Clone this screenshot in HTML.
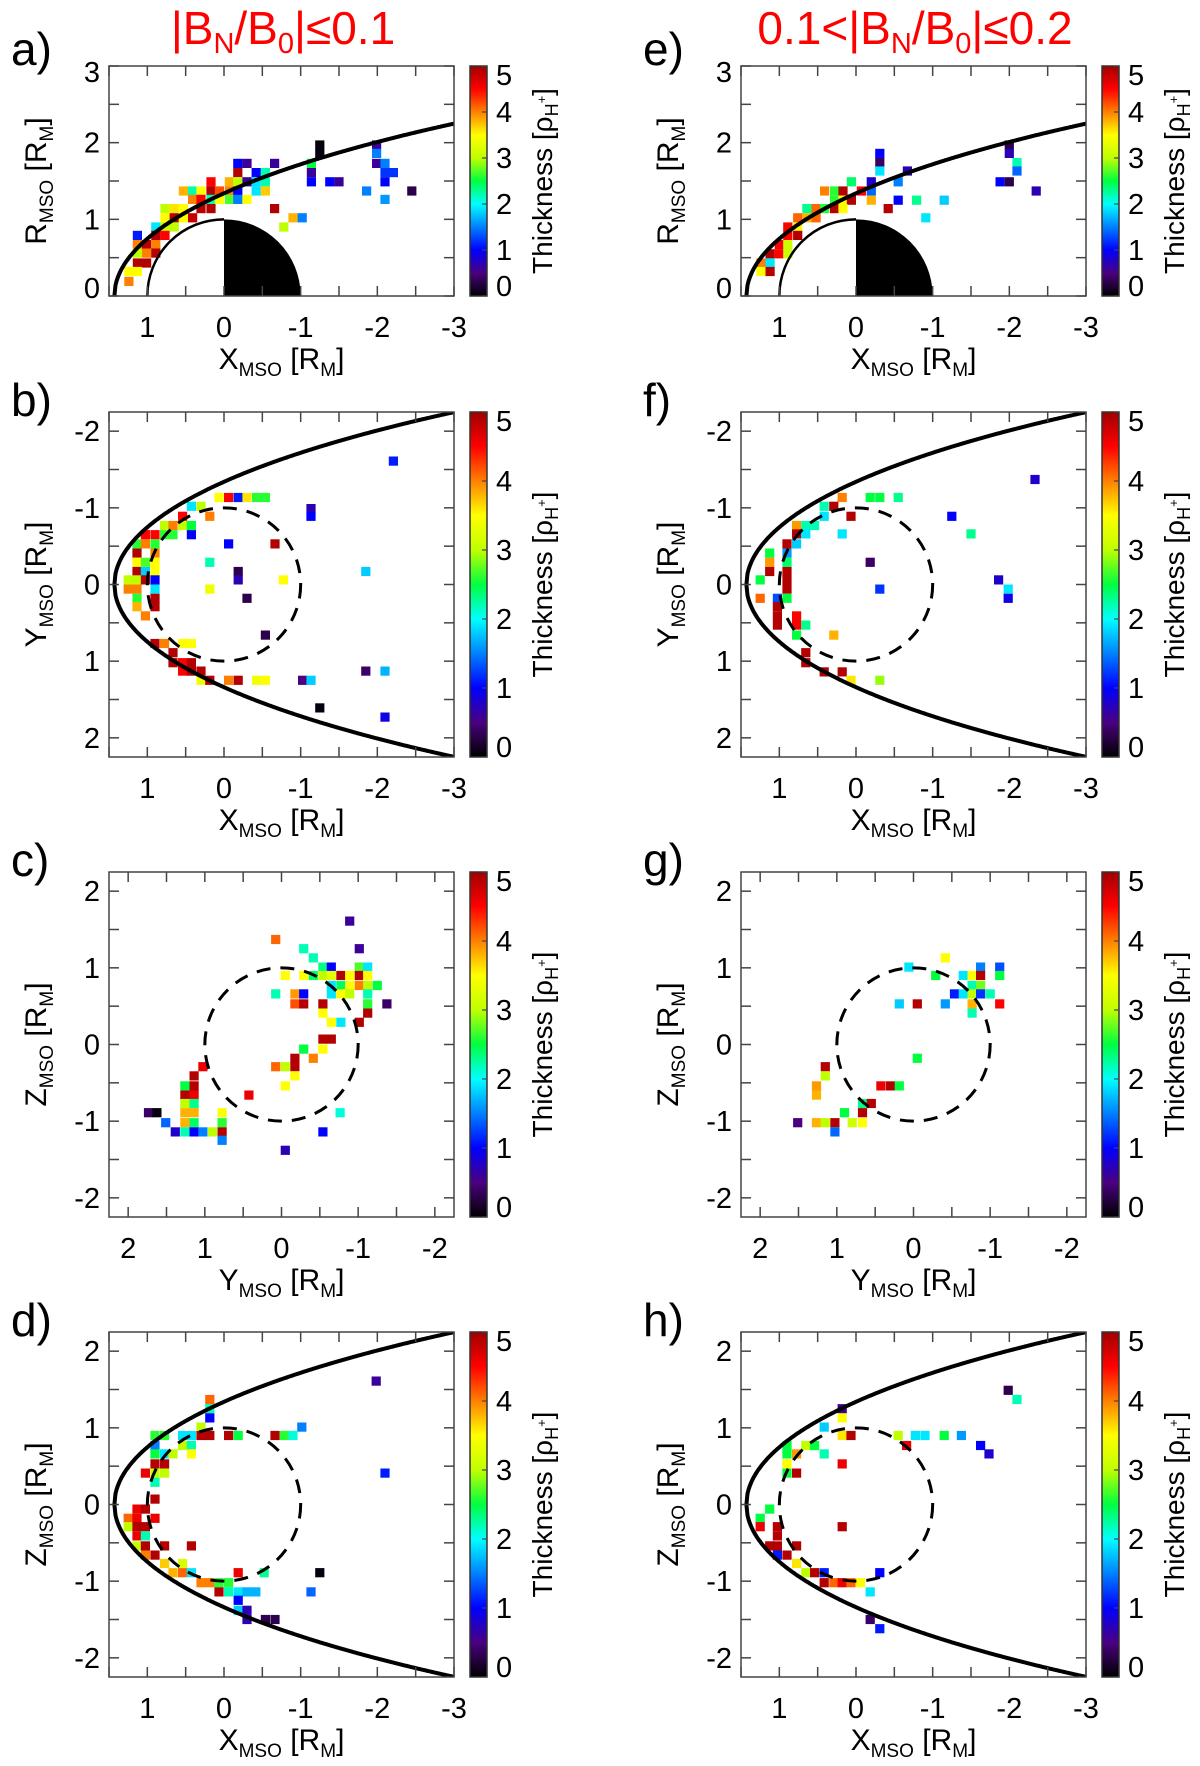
<!DOCTYPE html>
<html><head><meta charset="utf-8"><title>Current sheet thickness maps</title>
<style>html,body{margin:0;padding:0;background:#fff}svg{display:block}text{font-family:"Liberation Sans",sans-serif}</style>
</head><body>
<svg id="fig" width="1200" height="1766" viewBox="0 0 1200 1766" xmlns="http://www.w3.org/2000/svg">
<defs><linearGradient id="cmap" x1="0" y1="1" x2="0" y2="0">
<stop offset="0" stop-color="#000000"/><stop offset="0.1" stop-color="#4a0080"/><stop offset="0.2" stop-color="#0000ff"/><stop offset="0.3" stop-color="#0080ff"/><stop offset="0.4" stop-color="#00ffff"/><stop offset="0.5" stop-color="#00ff40"/><stop offset="0.6" stop-color="#c0ff00"/><stop offset="0.7" stop-color="#ffff00"/><stop offset="0.8" stop-color="#ff8000"/><stop offset="0.9" stop-color="#ff0000"/><stop offset="1" stop-color="#a00000"/></linearGradient></defs>
<text x="283" y="44" text-anchor="middle" font-size="46" fill="#ff0000">|B<tspan font-size="29" dy="9">N</tspan><tspan dy="-9">/B</tspan><tspan font-size="29" dy="9">0</tspan><tspan dy="-9">|≤0.1</tspan></text>
<text x="915" y="44" text-anchor="middle" font-size="46" fill="#ff0000">0.1&lt;|B<tspan font-size="29" dy="9">N</tspan><tspan dy="-9">/B</tspan><tspan font-size="29" dy="9">0</tspan><tspan dy="-9">|≤0.2</tspan></text>
</svg>
<script>
// data: [x, y, thickness]
const panelA=[[-1.25,1.97,0.05],[-1.25,1.86,0.05],[-1.99,1.97,0.6],[-1.99,1.86,1.5],[-0.18,1.73,1.0],[-0.30,1.73,0.6],[-0.66,1.73,0.6],[-1.14,1.73,2.5],[-1.99,1.73,0.6],[-2.10,1.73,1.5],[-0.18,1.61,4.9],[-0.42,1.61,1.0],[-0.54,1.61,2.2],[-1.14,1.61,0.6],[-2.10,1.61,1.2],[-2.21,1.61,1.2],[0.17,1.49,4.5],[-0.07,1.49,3.8],[-0.18,1.49,3.0],[-0.30,1.49,0.6],[-0.42,1.49,1.9],[-0.54,1.49,2.2],[-1.14,1.49,1.0],[-1.38,1.49,1.0],[-1.50,1.49,0.6],[-2.10,1.49,1.0],[0.53,1.37,3.8],[0.41,1.37,2.2],[0.30,1.37,3.5],[0.17,1.37,4.9],[0.06,1.37,4.2],[-0.07,1.37,4.0],[-0.18,1.37,1.0],[-0.42,1.37,1.9],[-0.54,1.37,3.7],[-1.86,1.37,1.5],[-2.45,1.37,0.3],[0.41,1.26,4.0],[0.30,1.26,4.5],[0.17,1.26,2.2],[0.06,1.26,3.5],[-0.07,1.26,2.7],[-0.18,1.26,1.5],[-0.30,1.26,3.5],[-2.10,1.26,1.6],[0.77,1.14,3.0],[0.65,1.14,3.6],[0.53,1.14,3.5],[0.30,1.14,4.9],[0.17,1.14,4.9],[-0.66,1.14,4.9],[0.77,1.02,3.5],[0.65,1.02,4.9],[0.53,1.02,3.5],[0.41,1.02,4.8],[-0.90,1.02,3.8],[-1.02,1.02,1.5],[0.89,0.90,1.9],[0.77,0.90,3.0],[0.65,0.90,3.0],[-0.78,0.90,3.0],[1.13,0.79,1.1],[0.89,0.79,4.9],[0.77,0.79,4.5],[1.13,0.67,4.0],[1.01,0.67,4.9],[0.89,0.67,4.0],[1.13,0.56,3.0],[1.01,0.56,4.0],[0.89,0.56,4.9],[1.13,0.43,4.9],[1.01,0.43,4.9],[1.24,0.32,3.5],[1.13,0.32,3.5],[1.24,0.19,4.0]];
const panelE=[[-2.0,1.97,0.3],[-0.31,1.86,1.0],[-2.0,1.86,0.7],[-0.31,1.74,0.4],[-2.1,1.74,2.2],[-0.31,1.63,1.9],[-0.67,1.63,0.7],[-2.1,1.63,1.4],[0.06,1.49,2.4],[-0.20,1.49,0.8],[-0.55,1.49,1.5],[-1.88,1.49,1.0],[-2.0,1.49,0.3],[-2.35,1.37,0.7],[0.41,1.37,4.0],[0.28,1.37,2.6],[0.17,1.37,4.9],[-0.07,1.37,4.5],[-0.20,1.37,1.4],[0.28,1.25,2.6],[0.17,1.25,3.5],[0.06,1.25,4.9],[-0.20,1.25,3.8],[-0.55,1.25,1.0],[-0.79,1.25,2.3],[-1.15,1.25,1.8],[0.64,1.14,2.3],[0.52,1.14,4.1],[0.41,1.14,2.6],[0.28,1.14,4.9],[0.17,1.14,3.5],[-0.42,1.14,4.9],[0.76,1.02,4.1],[0.64,1.02,3.8],[0.52,1.02,4.1],[-0.91,1.02,1.9],[0.89,0.90,4.5],[0.76,0.90,3.5],[0.89,0.79,4.5],[0.76,0.79,4.9],[1.00,0.67,4.5],[0.89,0.67,3.1],[1.12,0.55,4.9],[1.00,0.55,4.5],[0.89,0.55,3.1],[1.24,0.43,4.0],[1.12,0.43,1.9],[1.24,0.32,3.5],[1.12,0.32,4.9]];
const panelB=[[0.065,-1.135,3.5],[-0.06,-1.135,4.5],[-0.185,-1.135,1.1],[-0.30,-1.135,3.6],[-0.425,-1.135,2.6],[-0.54,-1.135,2.6],[0.425,-1.02,1.9],[0.30,-1.02,3.0],[-1.135,-0.99,0.7],[-1.135,-0.89,1.0],[0.54,-0.89,4.5],[0.185,-0.89,4.0],[0.775,-0.77,3.0],[0.665,-0.77,4.0],[0.54,-0.77,3.0],[0.425,-0.77,2.5],[1.025,-0.65,4.5],[0.9,-0.65,4.5],[0.775,-0.65,2.6],[0.665,-0.65,2.6],[0.425,-0.65,1.0],[1.135,-0.53,2.6],[1.025,-0.53,4.0],[0.9,-0.53,2.6],[-0.06,-0.53,1.0],[-0.665,-0.53,4.9],[1.135,-0.41,4.9],[0.9,-0.41,4.0],[1.135,-0.29,3.5],[1.025,-0.29,2.7],[0.9,-0.29,3.5],[0.185,-0.29,2.2],[1.135,-0.17,4.9],[1.025,-0.17,1.8],[0.9,-0.17,3.5],[-0.185,-0.17,0.3],[-1.85,-0.17,1.8],[1.25,-0.06,3.0],[1.135,-0.06,3.0],[1.025,-0.06,4.9],[0.9,-0.06,1.0],[-0.185,-0.06,0.7],[-0.775,-0.06,3.5],[1.25,0.06,4.0],[1.135,0.06,4.0],[0.9,0.06,1.9],[0.185,0.06,3.4],[1.135,0.18,2.6],[0.9,0.18,4.9],[-0.30,0.18,0.3],[1.135,0.29,3.8],[0.9,0.29,4.9],[1.025,0.41,4.0],[-0.54,0.66,0.3],[0.9,0.77,4.9],[0.775,0.77,4.0],[0.54,0.77,3.5],[0.425,0.77,3.5],[0.665,0.89,4.9],[0.665,1.02,4.9],[0.54,1.02,4.5],[0.425,1.02,4.9],[0.54,1.13,4.5],[0.425,1.13,4.9],[0.30,1.13,4.9],[-1.85,1.13,0.4],[-2.1,1.13,1.7],[0.30,1.25,3.4],[0.185,1.25,4.9],[-0.06,1.25,4.0],[-0.185,1.25,4.9],[-0.425,1.25,3.4],[-0.54,1.25,3.5],[-1.025,1.25,0.5],[-1.135,1.25,1.8],[-1.25,1.61,0.05],[-2.1,1.73,0.9],[-2.21,-1.61,1.1]];
const panelF=[[-2.335,-1.37,0.8],[0.18,-1.135,4.0],[-0.185,-1.135,2.5],[-0.31,-1.135,2.5],[-0.55,-1.135,2.3],[0.415,-1.02,2.2],[0.29,-1.02,4.9],[0.415,-0.89,1.9],[0.065,-0.89,4.9],[-1.25,-0.89,1.0],[0.775,-0.77,3.9],[0.655,-0.77,2.2],[0.54,-0.77,2.2],[0.775,-0.66,4.9],[0.655,-0.66,1.9],[0.18,-0.66,1.9],[-1.5,-0.66,2.3],[0.9,-0.53,4.9],[0.775,-0.53,1.8],[1.125,-0.41,2.5],[0.9,-0.41,1.6],[1.125,-0.29,3.9],[0.9,-0.29,2.4],[-0.185,-0.29,0.4],[1.125,-0.17,4.9],[0.9,-0.17,4.9],[1.25,-0.06,2.5],[0.9,-0.06,4.9],[-1.86,-0.06,0.8],[0.9,0.06,4.9],[-0.31,0.06,1.2],[-1.985,0.06,1.9],[1.25,0.18,4.1],[1.025,0.18,1.3],[0.9,0.18,2.5],[-1.985,0.18,0.9],[1.025,0.29,4.9],[1.025,0.41,4.9],[0.775,0.41,4.5],[1.025,0.53,4.9],[0.775,0.53,4.5],[0.655,0.53,2.3],[0.775,0.66,2.5],[0.29,0.66,3.8],[0.655,0.89,4.9],[0.655,1.02,4.9],[0.415,1.14,4.9],[0.18,1.14,4.9],[0.065,1.25,3.6],[-0.31,1.25,2.9]];
const panelC=[[-0.89,1.61,0.6],[0.075,1.37,4.1],[-1.015,1.25,0.6],[-0.29,1.25,2.2],[-0.415,1.13,2.2],[-0.54,1.01,2.3],[-0.65,1.01,1.0],[-1.015,1.01,2.7],[-1.125,1.01,1.9],[-0.05,0.9,3.5],[-0.29,0.9,3.5],[-0.415,0.9,2.4],[-0.54,0.9,3.0],[-0.65,0.9,3.3],[-0.775,0.9,4.9],[-0.89,0.9,3.5],[-1.015,0.9,4.9],[-1.125,0.9,3.5],[-0.65,0.77,1.9],[-0.775,0.77,2.4],[-0.89,0.77,3.5],[-1.015,0.77,4.0],[-1.125,0.77,3.0],[-1.25,0.77,2.5],[0.075,0.66,2.2],[-0.175,0.66,3.9],[-0.29,0.66,1.0],[-0.65,0.66,1.9],[-0.775,0.66,3.5],[-0.89,0.66,3.0],[-1.125,0.66,2.2],[-0.175,0.53,4.2],[-0.29,0.53,4.9],[-0.54,0.53,4.9],[-1.125,0.53,2.6],[-1.375,0.53,0.4],[-0.54,0.41,3.5],[-1.125,0.41,4.9],[-0.65,0.29,3.5],[-0.775,0.29,1.9],[-1.015,0.29,4.9],[-0.54,0.07,4.9],[-0.65,0.07,4.9],[-0.29,-0.06,2.5],[-0.54,-0.06,3.5],[-0.175,-0.18,4.9],[-0.415,-0.18,4.0],[0.075,-0.29,4.1],[-0.05,-0.29,3.0],[-0.175,-0.29,4.9],[1.025,-0.29,4.6],[1.14,-0.41,4.9],[-0.175,-0.41,3.5],[1.26,-0.54,2.5],[1.14,-0.54,4.9],[-0.05,-0.54,3.5],[1.26,-0.66,4.9],[1.14,-0.66,4.6],[0.425,-0.66,4.6],[1.26,-0.77,3.0],[1.14,-0.77,2.3],[1.26,-0.89,3.8],[1.14,-0.89,3.8],[0.775,-0.89,3.5],[1.735,-0.89,0.4],[1.625,-0.89,0.05],[-0.765,-0.89,2.1],[1.51,-1.02,1.4],[1.26,-1.02,3.8],[1.14,-1.02,2.4],[0.775,-1.02,2.6],[1.385,-1.14,0.8],[1.26,-1.14,2.2],[1.14,-1.14,1.0],[1.025,-1.14,1.5],[0.9,-1.14,3.0],[0.775,-1.14,4.9],[-0.54,-1.14,1.0],[0.775,-1.25,1.5],[-0.05,-1.38,0.7]];
const panelG=[[-0.415,1.13,3.5],[0.06,1.01,1.9],[-0.875,1.01,1.5],[-1.125,1.01,1.3],[-0.29,0.9,2.5],[-0.65,0.9,1.9],[-0.765,0.9,3.5],[-0.875,0.9,4.9],[-1.125,0.9,2.5],[-0.765,0.77,2.2],[-0.875,0.77,2.8],[-0.535,0.66,1.1],[-0.65,0.66,1.9],[-0.765,0.66,3.0],[-0.875,0.66,1.2],[-1.0,0.66,2.2],[0.185,0.53,1.8],[-0.05,0.53,4.9],[-0.415,0.53,1.6],[-0.765,0.53,3.8],[-1.125,0.53,4.5],[-0.765,0.41,2.2],[-0.05,-0.18,2.5],[1.15,-0.29,4.9],[1.15,-0.41,3.0],[1.265,-0.54,3.9],[0.425,-0.54,4.6],[0.3,-0.54,4.9],[0.185,-0.54,2.5],[1.265,-0.66,3.8],[0.665,-0.77,2.3],[0.55,-0.77,4.9],[0.9,-0.89,2.5],[0.665,-0.89,4.9],[1.51,-1.02,0.5],[1.265,-1.02,3.8],[1.15,-1.02,3.0],[1.025,-1.02,4.9],[0.8,-1.02,3.1],[0.665,-1.02,3.5],[1.025,-1.14,1.4]];
const panelD=[[-1.985,1.61,0.6],[0.185,1.37,4.1],[0.185,1.25,2.2],[0.185,1.13,1.0],[0.30,1.01,3.0],[-1.015,1.01,1.5],[0.9,0.9,2.6],[0.775,0.9,2.6],[0.54,0.9,1.9],[0.425,0.9,1.9],[0.30,0.9,4.9],[0.185,0.9,4.9],[-0.06,0.9,4.9],[-0.185,0.9,2.5],[-0.665,0.9,4.9],[-0.785,0.9,2.6],[-0.9,0.9,2.1],[0.9,0.77,1.5],[0.54,0.77,3.0],[0.425,0.77,2.2],[0.9,0.66,2.5],[0.775,0.66,1.9],[0.665,0.66,3.0],[0.425,0.66,3.5],[0.9,0.53,4.9],[0.775,0.53,4.9],[1.025,0.41,4.6],[0.9,0.41,3.0],[0.775,0.41,3.0],[-2.1,0.41,1.1],[0.9,0.29,2.2],[0.9,0.07,4.9],[1.135,-0.06,4.6],[1.025,-0.06,4.9],[1.25,-0.18,4.1],[1.135,-0.18,4.6],[0.9,-0.18,4.6],[1.25,-0.29,3.0],[1.135,-0.29,4.9],[1.025,-0.29,4.9],[1.135,-0.41,4.6],[1.025,-0.41,2.2],[1.135,-0.54,3.0],[1.025,-0.54,4.9],[0.775,-0.54,4.9],[0.425,-0.54,4.9],[1.025,-0.66,4.0],[0.9,-0.66,4.9],[0.775,-0.77,3.7],[0.54,-0.77,3.2],[0.665,-0.89,3.8],[0.54,-0.89,4.1],[0.425,-0.89,1.9],[-0.185,-0.89,4.6],[-0.525,-0.89,2.3],[-1.25,-0.89,0.05],[0.30,-1.02,4.0],[0.185,-1.02,4.0],[0.065,-1.02,2.6],[-0.06,-1.02,2.6],[0.065,-1.14,4.9],[-0.06,-1.14,2.2],[-0.185,-1.14,1.9],[-0.30,-1.14,1.7],[-0.415,-1.14,1.7],[-1.135,-1.14,1.4],[-0.185,-1.25,1.0],[-0.185,-1.38,1.8],[-0.30,-1.38,0.7],[-0.30,-1.5,0.7],[-0.54,-1.5,0.3],[-0.665,-1.5,0.3]];
const panelH=[[-1.985,1.49,0.3],[-2.1,1.37,2.2],[0.18,1.25,0.6],[0.18,1.13,3.5],[0.415,1.01,1.8],[0.18,0.9,3.6],[0.065,0.9,4.9],[-0.55,0.9,3.0],[-0.775,0.9,1.9],[-0.9,0.9,1.9],[-1.15,0.9,2.5],[-1.375,0.9,1.6],[0.9,0.77,2.5],[0.655,0.77,3.0],[0.54,0.77,2.5],[-0.66,0.77,4.6],[-1.625,0.77,1.0],[0.9,0.66,2.5],[0.775,0.66,3.9],[0.415,0.66,2.2],[-1.735,0.66,0.8],[0.9,0.53,3.5],[0.18,0.53,4.6],[0.9,0.41,2.5],[0.775,0.41,4.9],[1.125,-0.06,2.5],[1.25,-0.18,2.5],[1.25,-0.29,4.6],[1.025,-0.29,4.9],[0.18,-0.29,4.9],[1.025,-0.41,4.9],[1.125,-0.54,4.9],[1.025,-0.54,4.9],[0.775,-0.54,4.9],[1.025,-0.66,1.1],[0.9,-0.66,4.9],[0.775,-0.77,3.6],[0.655,-0.89,3.0],[0.54,-0.89,4.9],[0.415,-0.89,1.1],[-0.31,-0.89,1.0],[0.415,-1.02,4.9],[0.29,-1.02,4.1],[0.18,-1.02,4.6],[0.065,-1.02,4.1],[-0.06,-1.02,3.5],[-0.185,-1.14,1.9],[-0.185,-1.5,0.4],[-0.31,-1.62,1.1]];
const xTicksX=[1,0,-1,-2,-3];
const xTicksY=[2,1,0,-1,-2];
const yTicksR=[0,1,2,3];
const yTicksY=[-2,-1,0,1,2];
const yTicksZ=[2,1,0,-1,-2];
const cbarTicks=[0,1,2,3,4,5];

const NS='http://www.w3.org/2000/svg';
const svg=document.getElementById('fig');
function mk(tag,attrs,parent){const e=document.createElementNS(NS,tag);for(const k in attrs)e.setAttribute(k,attrs[k]);(parent||svg).appendChild(e);return e;}
const stops=[[0,[0,0,0]],[0.5,[74,0,128]],[1,[0,0,255]],[1.5,[0,128,255]],[2,[0,255,255]],[2.5,[0,255,64]],[3,[192,255,0]],[3.5,[255,255,0]],[4,[255,128,0]],[4.5,[255,0,0]],[5,[160,0,0]]];
function cmap(v){v=Math.max(0,Math.min(5,v));for(let i=1;i<stops.length;i++){if(v<=stops[i][0]){const a=stops[i-1],b=stops[i];const t=(v-a[0])/(b[0]-a[0]);const c=a[1].map((q,j)=>Math.round(q+(b[1][j]-q)*t));return 'rgb('+c.join(',')+')';}}return 'rgb(160,0,0)';}
function mpRho(x){const u=1.43-x;if(u<=0)return 0;return Math.sqrt(1.318*u/(1+0.035*u));}

function subText(parent,x,y,main,sub,rest,sub2,end,size,extra){
  const t=mk('text',Object.assign({x:x,y:y,'font-size':size,'text-anchor':'middle'},extra||{}),parent);
  const ss=Math.round(size*0.64),d=Math.round(size*0.24);
  t.appendChild(document.createTextNode(main));
  const s1=mk('tspan',{'font-size':ss,dy:d},t);s1.textContent=sub;
  const s2=mk('tspan',{dy:-d},t);s2.textContent=rest;
  const s3=mk('tspan',{'font-size':ss,dy:d},t);s3.textContent=sub2;
  const s4=mk('tspan',{dy:-d},t);s4.textContent=end;
  return t;
}

function panel(cfg){
  const g=mk('g',{});
  
  
  const L=cfg.left,T=cfg.top,W=345,H=cfg.h;
  const sx=v=>L+(cfg.x0-v)/(cfg.x0-cfg.x1)*W;
  const sy=v=>T+(cfg.yTop-v)/(cfg.yTop-cfg.yBot)*H;
  const k=W/Math.abs(cfg.x0-cfg.x1);
  const cid='clip'+cfg.id;
  const cp=mk('clipPath',{id:cid},g);mk('rect',{x:L,y:T,width:W,height:H},cp);
  const inner=mk('g',{'clip-path':'url(#'+cid+')'},g);
  const sz=0.12*k;
  cfg.data.forEach(p=>{
    const r=mk('rect',{x:(sx(p[0])-sz/2).toFixed(1),y:(sy(p[1])-sz/2).toFixed(1),width:sz.toFixed(1),height:sz.toFixed(1),fill:cmap(p[2])},inner);
    
    
  });
  if(cfg.type==='xr'){
    const pl=mk('path',{d:`M${sx(0)},${sy(0)} L${sx(0)},${sy(1)} A${k},${k} 0 0 1 ${sx(-1)},${sy(0)} Z`,fill:'#000'},inner);
    
    
    const ol=mk('path',{d:`M${sx(1)},${sy(0)} A${k},${k} 0 0 1 ${sx(0)},${sy(1)}`,fill:'none',stroke:'#000','stroke-width':2.5},inner);
    
    
  } else {
    const c=mk('circle',{cx:sx(0),cy:sy(0),r:k,fill:'none',stroke:'#000','stroke-width':3,'stroke-dasharray':'14 10'},inner);
    
    
  }
  if(cfg.type!=='yz'){
    const up=[],dn=[];
    for(let i=0;i<=300;i++){const x=1.43-i*(4.6/300);const r=mpRho(x);up.push(sx(x).toFixed(1)+','+sy(r).toFixed(1));dn.push(sx(x).toFixed(1)+','+sy(-r).toFixed(1));}
    let pts=cfg.type==='xr'?up:dn.reverse().concat(up);
    const mp=mk('polyline',{points:pts.join(' '),fill:'none',stroke:'#000','stroke-width':4},inner);
    
    
  }
  const fr=mk('rect',{x:L,y:T,width:W,height:H,fill:'none',stroke:'#444','stroke-width':1.5},g);
  
  
  const tk=mk('g',{stroke:'#444','stroke-width':1.5},g);
  const xa=Math.min(cfg.x0,cfg.x1),xb=Math.max(cfg.x0,cfg.x1);
  for(let v=Math.ceil(xa*2)/2;v<=xb+1e-9;v+=0.5){const X=sx(v);mk('line',{x1:X,y1:T,x2:X,y2:T+10},tk);mk('line',{x1:X,y1:T+H,x2:X,y2:T+H-10},tk);}
  const ya=Math.min(cfg.yTop,cfg.yBot),yb=Math.max(cfg.yTop,cfg.yBot);
  for(let v=Math.ceil(ya*2)/2;v<=yb+1e-9;v+=0.5){const Y=sy(v);mk('line',{x1:L,y1:Y,x2:L+10,y2:Y},tk);mk('line',{x1:L+W,y1:Y,x2:L+W-10,y2:Y},tk);}
  cfg.xt.forEach(v=>{const t=mk('text',{x:sx(v),y:T+H+41,'font-size':29,'text-anchor':'middle'},g);t.textContent=String(v);});
  cfg.yt.forEach(v=>{let Y=sy(v)+10;if(cfg.type==='xr'&&v===0)Y-=8;if(cfg.type==='xr'&&v===3)Y+=6;const t=mk('text',{x:L-9,y:Y,'font-size':29,'text-anchor':'end'},g);t.textContent=String(v);});
  const xt=subText(g,L+W/2,T+H+73,cfg.xl,'MSO',' [R','M',']',30);
  
  
  const yx=L-63,yy=T+H/2;
  const yt=subText(g,yx,yy,cfg.yl,'MSO',' [R','M',']',30,{transform:`rotate(-90 ${yx} ${yy})`});
  
  
  const pl=mk('text',{x:L-98,y:T+(cfg.type==='xr'?-1:4),'font-size':46},g);pl.textContent=cfg.id+')';
  
  
  const cx=L+W+16;
  const cb=mk('rect',{x:cx,y:T,width:17,height:H,fill:'url(#cmap)',stroke:'#333','stroke-width':1.5},g);
  
  
  cbarTicks.forEach(v=>{const Y=T+H-(v/5)*H;mk('line',{x1:cx+17,y1:Y,x2:cx+12,y2:Y,stroke:'#444','stroke-width':1.2},g);
    let ly=Y+10;if(v===5)ly+=9;if(v===0)ly-=10;
    const t=mk('text',{x:cx+26,y:ly,'font-size':29},g);t.textContent=String(v);});
  const bx=cx+82,by=T+H/2;
  const ct=mk('text',{x:bx,y:by,'font-size':28,'text-anchor':'middle',transform:`rotate(-90 ${bx} ${by})`},g);
  
  
  ct.appendChild(document.createTextNode('Thickness [ρ'));
  const a1=mk('tspan',{'font-size':18,dy:6},ct);a1.textContent='H';
  const a2=mk('tspan',{'font-size':13,dy:-12},ct);a2.textContent='+';
  const a3=mk('tspan',{dy:6},ct);a3.textContent=']';
}
const cols=[109,741];
panel({id:'a',left:cols[0],top:66,h:230,x0:1.5,x1:-3,yTop:3,yBot:0,type:'xr',data:panelA,xt:xTicksX,yt:yTicksR,xl:'X',yl:'R'});
panel({id:'b',left:cols[0],top:412,h:345,x0:1.5,x1:-3,yTop:-2.25,yBot:2.25,type:'xy',data:panelB,xt:xTicksX,yt:yTicksY,xl:'X',yl:'Y'});
panel({id:'c',left:cols[0],top:872,h:345,x0:2.25,x1:-2.25,yTop:2.25,yBot:-2.25,type:'yz',data:panelC,xt:xTicksY,yt:yTicksZ,xl:'Y',yl:'Z'});
panel({id:'d',left:cols[0],top:1332,h:345,x0:1.5,x1:-3,yTop:2.25,yBot:-2.25,type:'xz',data:panelD,xt:xTicksX,yt:yTicksZ,xl:'X',yl:'Z'});
panel({id:'e',left:cols[1],top:66,h:230,x0:1.5,x1:-3,yTop:3,yBot:0,type:'xr',data:panelE,xt:xTicksX,yt:yTicksR,xl:'X',yl:'R'});
panel({id:'f',left:cols[1],top:412,h:345,x0:1.5,x1:-3,yTop:-2.25,yBot:2.25,type:'xy',data:panelF,xt:xTicksX,yt:yTicksY,xl:'X',yl:'Y'});
panel({id:'g',left:cols[1],top:872,h:345,x0:2.25,x1:-2.25,yTop:2.25,yBot:-2.25,type:'yz',data:panelG,xt:xTicksY,yt:yTicksZ,xl:'Y',yl:'Z'});
panel({id:'h',left:cols[1],top:1332,h:345,x0:1.5,x1:-3,yTop:2.25,yBot:-2.25,type:'xz',data:panelH,xt:xTicksX,yt:yTicksZ,xl:'X',yl:'Z'});
</script>
</body></html>
